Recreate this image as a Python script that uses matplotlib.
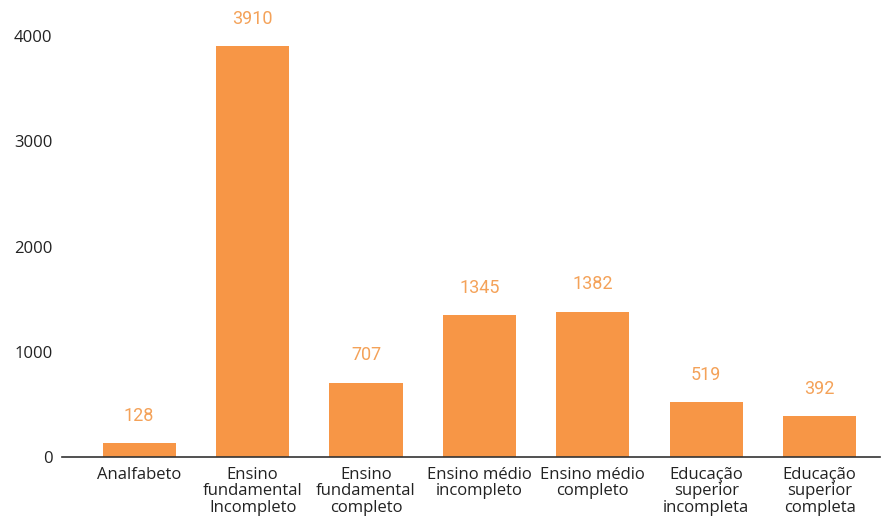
import matplotlib
matplotlib.use("Agg")
import matplotlib.pyplot as plt

categories = ["Analfabeto", "Ensino\nfundamental\nIncompleto", "Ensino\nfundamental\ncompleto",
              "Ensino médio\nincompleto", "Ensino médio\ncompleto", "Educação\nsuperior\nincompleta",
              "Educação\nsuperior\ncompleta"]
values = [128, 3910, 707, 1345, 1382, 519, 392]
yticks = [0, 1000, 2000, 3000, 4000]

bar_color = "#F79646"
label_color = "#F4A259"

fig = plt.figure(figsize=(8.86, 5.21), dpi=100)
ax = fig.add_axes([0.070, 0.123, 0.923, 0.868])
x = list(range(len(values)))
ax.bar(x, values, width=0.645, color=bar_color, zorder=2)
for xi, v in zip(x, values):
    ax.annotate(str(v), (xi, v), xytext=(0, 19.5), textcoords="offset points",
                ha="center", va="center", color=label_color, fontsize=13, family="Roboto")
ax.set_xlim(-0.68, 6.53)
ax.set_ylim(0, 4300)
ax.set_yticks(yticks)
ax.set_yticklabels([str(t) for t in yticks], fontsize=12, family="Open Sans", color="#222222")
ax.set_xticks(x)
ax.set_xticklabels(categories, fontsize=12, family="Open Sans", color="#222222", linespacing=1.05)
ax.tick_params(axis="both", length=0)
ax.tick_params(axis="y", pad=7)
ax.tick_params(axis="x", pad=7)
for s in ["top", "right", "left"]:
    ax.spines[s].set_visible(False)
ax.spines["bottom"].set_color("#333333")
ax.spines["bottom"].set_linewidth(1.2)
fig.savefig("out.png", dpi=100)
